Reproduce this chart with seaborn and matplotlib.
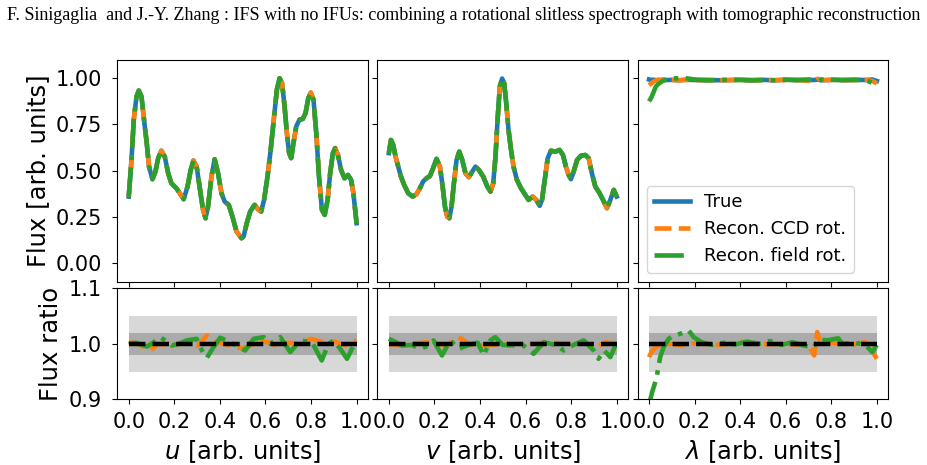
import matplotlib
matplotlib.use("Agg")
import matplotlib.pyplot as plt
import seaborn as sns

# ---------------- data ----------------
u_pos = [0.0, 0.012, 0.022, 0.034, 0.044, 0.056, 0.067, 0.079, 0.089, 0.104,
         0.117, 0.129, 0.143, 0.158, 0.173, 0.187, 0.209, 0.224, 0.241, 0.258,
         0.272, 0.284, 0.298, 0.313, 0.326, 0.337, 0.348, 0.363, 0.377, 0.392,
         0.407, 0.421, 0.439, 0.455, 0.473, 0.495, 0.504, 0.518, 0.533, 0.552,
         0.570, 0.581, 0.594, 0.609, 0.623, 0.638, 0.650, 0.662, 0.673, 0.684,
         0.694, 0.704, 0.713, 0.723, 0.735, 0.749, 0.764, 0.776, 0.788, 0.799,
         0.811, 0.823, 0.835, 0.848, 0.860, 0.873, 0.884, 0.896, 0.906, 0.918,
         0.932, 0.947, 0.962, 0.976, 0.986, 1.0]
u_flux = [0.36, 0.558, 0.775, 0.90, 0.933, 0.90, 0.775, 0.649, 0.522, 0.454,
          0.495, 0.567, 0.608, 0.576, 0.486, 0.432, 0.405, 0.378, 0.346, 0.414,
          0.504, 0.555, 0.522, 0.396, 0.288, 0.243, 0.306, 0.468, 0.562, 0.486,
          0.378, 0.333, 0.315, 0.252, 0.171, 0.135, 0.144, 0.216, 0.279, 0.315,
          0.288, 0.279, 0.342, 0.468, 0.613, 0.793, 0.937, 1.0, 0.973, 0.847,
          0.703, 0.595, 0.568, 0.649, 0.739, 0.775, 0.78, 0.811, 0.892, 0.922,
          0.883, 0.703, 0.468, 0.288, 0.261, 0.342, 0.486, 0.595, 0.622, 0.585,
          0.504, 0.459, 0.477, 0.450, 0.378, 0.216]

v_pos = [0.0, 0.009, 0.019, 0.029, 0.041, 0.053, 0.067, 0.085, 0.104, 0.121,
         0.136, 0.15, 0.165, 0.18, 0.194, 0.209, 0.224, 0.236, 0.246, 0.256,
         0.265, 0.275, 0.287, 0.297, 0.309, 0.322, 0.336, 0.351, 0.366, 0.38,
         0.395, 0.414, 0.432, 0.446, 0.458, 0.468, 0.477, 0.487, 0.497, 0.506,
         0.515, 0.525, 0.536, 0.547, 0.562, 0.58, 0.594, 0.613, 0.631, 0.647,
         0.662, 0.672, 0.684, 0.697, 0.711, 0.731, 0.749, 0.764, 0.777, 0.789,
         0.799, 0.811, 0.826, 0.843, 0.862, 0.877, 0.891, 0.906, 0.923, 0.94,
         0.957, 0.972, 0.987, 1.0]
v_flux = [0.595, 0.666, 0.64, 0.577, 0.522, 0.468, 0.423, 0.378, 0.36, 0.373,
          0.405, 0.441, 0.459, 0.471, 0.513, 0.564, 0.522, 0.414, 0.306, 0.252,
          0.243, 0.306, 0.45, 0.558, 0.603, 0.558, 0.486, 0.465, 0.495, 0.522,
          0.504, 0.468, 0.414, 0.387, 0.432, 0.577, 0.775, 0.955, 0.998, 0.973,
          0.865, 0.721, 0.613, 0.522, 0.45, 0.405, 0.378, 0.342, 0.36, 0.342,
          0.31, 0.342, 0.45, 0.567, 0.608, 0.603, 0.612, 0.585, 0.522, 0.477,
          0.454, 0.495, 0.558, 0.581, 0.585, 0.567, 0.486, 0.414, 0.382, 0.342,
          0.297, 0.342, 0.396, 0.36]

lam_pos = [0.0, 0.01, 0.02, 0.03, 0.04, 0.05, 0.06, 0.08, 0.10, 0.13,
           0.16, 0.20, 0.25, 0.30, 0.35, 0.40, 0.45, 0.50, 0.55, 0.60,
           0.65, 0.70, 0.72, 0.74, 0.76, 0.80, 0.85, 0.90, 0.95, 0.98, 1.0]
lam_true = [0.993, 0.99, 0.992, 0.989, 0.991, 0.99, 0.992, 0.99, 0.991, 0.989,
            0.992, 0.99, 0.991, 0.989, 0.99, 0.992, 0.99, 0.991, 0.989, 0.992,
            0.99, 0.991, 0.99, 0.992, 0.989, 0.991, 0.99, 0.992, 0.99, 0.993, 0.985]
lam_ccd = [0.962, 0.972, 0.982, 0.988, 0.99, 0.99, 0.989, 0.991, 0.99, 0.988,
           0.99, 0.989, 0.99, 0.988, 0.989, 0.99, 0.988, 0.99, 0.989, 0.99,
           0.99, 0.986, 0.98, 0.997, 0.99, 0.99, 0.989, 0.99, 0.991, 0.985, 0.972]
lam_field = [0.875, 0.895, 0.925, 0.955, 0.968, 0.977, 0.985, 0.995, 0.998, 1.0,
             1.0, 0.993, 0.988, 0.99, 0.992, 0.99, 0.988, 0.99, 0.989, 0.991,
             0.99, 0.992, 0.99, 0.985, 0.993, 0.992, 0.99, 0.99, 0.99, 0.975, 0.978]

# flux ratios (reconstruction / true)
u_ratio_field_pos = [0.0, 0.03, 0.06, 0.08, 0.11, 0.137, 0.16, 0.189, 0.22, 0.254,
                     0.298, 0.328, 0.343, 0.372, 0.401, 0.445, 0.48, 0.511, 0.548, 0.592,
                     0.621, 0.665, 0.709, 0.752, 0.804, 0.847, 0.877, 0.899, 0.93, 0.958,
                     0.987, 1.0]
u_ratio_field = [1.0, 1.002, 0.998, 0.995, 1.003, 1.012, 1.006, 0.997, 1.0, 1.006,
                 1.009, 0.982, 0.975, 0.994, 1.011, 1.003, 0.995, 0.988, 1.009, 1.012,
                 1.0, 1.012, 0.985, 1.006, 1.003, 0.97, 1.0, 1.006, 0.99, 0.973,
                 0.997, 1.0]
u_ratio_ccd_pos = [0.0, 0.04, 0.093, 0.13, 0.19, 0.25, 0.3, 0.343, 0.39, 0.45,
                   0.5, 0.55, 0.6, 0.65, 0.7, 0.75, 0.8, 0.85, 0.9, 0.95, 1.0]
u_ratio_ccd = [1.003, 1.0, 0.988, 1.0, 0.997, 1.003, 0.996, 1.015, 1.002, 0.997,
               0.991, 1.0, 1.004, 0.997, 1.002, 1.0, 1.009, 1.003, 1.004, 0.998, 1.006]

v_ratio_field_pos = [0.0, 0.03, 0.057, 0.1, 0.137, 0.17, 0.196, 0.233, 0.269, 0.29,
                     0.306, 0.35, 0.39, 0.416, 0.445, 0.467, 0.5, 0.55, 0.591, 0.635,
                     0.68, 0.738, 0.767, 0.81, 0.855, 0.899, 0.92, 0.945, 0.972, 0.994]
v_ratio_field = [1.009, 1.003, 0.997, 0.998, 0.991, 0.996, 1.006, 0.979, 1.006, 0.998,
                 0.991, 0.998, 1.002, 0.979, 1.006, 1.012, 0.998, 0.997, 0.997, 0.982,
                 1.003, 0.997, 0.988, 0.998, 1.006, 0.988, 0.973, 0.988, 0.976, 0.997]
v_ratio_ccd_pos = [0.0, 0.05, 0.1, 0.18, 0.25, 0.306, 0.35, 0.42, 0.5, 0.6,
                   0.7, 0.8, 0.86, 0.9, 0.95, 1.0]
v_ratio_ccd = [1.0, 0.997, 1.0, 1.003, 0.997, 1.012, 1.0, 0.997, 1.0, 1.0,
               1.002, 1.0, 1.003, 0.991, 1.003, 1.0]

lam_ratio_field_pos = [0.0, 0.006, 0.015, 0.023, 0.032, 0.049, 0.064, 0.086, 0.108, 0.137,
                       0.174, 0.196, 0.23, 0.28, 0.33, 0.38, 0.43, 0.48, 0.53, 0.58,
                       0.63, 0.68, 0.72, 0.745, 0.78, 0.83, 0.85, 0.9, 0.95, 0.98, 1.0]
lam_ratio_field = [0.88, 0.9, 0.915, 0.925, 0.937, 0.976, 0.994, 1.009, 1.015, 1.018,
                   1.024, 1.012, 1.003, 0.998, 1.002, 0.999, 1.004, 1.0, 1.005, 0.998,
                   1.003, 0.997, 0.993, 1.008, 1.006, 1.01, 1.0, 1.002, 0.998, 0.985, 0.998]
lam_ratio_ccd_pos = [0.0, 0.01, 0.03, 0.05, 0.1, 0.15, 0.2, 0.3, 0.4, 0.5,
                     0.6, 0.7, 0.725, 0.738, 0.75, 0.8, 0.9, 0.95, 0.975, 1.0]
lam_ratio_ccd = [0.976, 0.985, 0.994, 0.998, 1.0, 0.997, 1.001, 0.998, 1.002, 0.999,
                 1.0, 0.997, 0.979, 1.021, 1.005, 1.002, 0.999, 1.003, 0.99, 0.973]

ref_pos = [0.0, 1.0]
ref_ratio = [1.0, 1.0]
band_outer = (0.95, 1.05)
band_inner = (0.98, 1.02)

series_labels = ["True", "Recon. CCD rot.", "Recon. field rot."]
x_labels = ["$u$ [arb. units]", "$v$ [arb. units]", r"$\lambda$ [arb. units]"]
top_ticks = [0.0, 0.25, 0.5, 0.75, 1.0]
bottom_ticks = [0.9, 1.0, 1.1]
x_ticks = [0.0, 0.2, 0.4, 0.6, 0.8, 1.0]

title = ("F. Sinigaglia  and J.-Y. Zhang : IFS with no IFUs: combining a rotational "
         "slitless spectrograph with tomographic reconstruction")

# ---------------- figure ----------------
plt.rcParams["font.family"] = ["DejaVu Sans"]
plt.rcParams["xtick.major.pad"] = 6.0
plt.rcParams["ytick.major.pad"] = 7.5
fig, axes = plt.subplots(
    2, 3, figsize=(9.27, 4.65), dpi=100, sharex=True, sharey="row",
    gridspec_kw=dict(height_ratios=[2, 1], left=0.1266, right=0.9582,
                     top=0.8716, bottom=0.1413, hspace=0.04, wspace=0.038))

C_TRUE, C_CCD, C_FIELD = "#1f77b4", "#ff7f0e", "#2ca02c"
LW = 3.3

top_data = [
    (u_pos, u_flux, u_pos, u_flux, u_pos, u_flux),
    (v_pos, v_flux, v_pos, v_flux, v_pos, v_flux),
    (lam_pos, lam_true, lam_pos, lam_ccd, lam_pos, lam_field),
]
bot_data = [
    (u_ratio_ccd_pos, u_ratio_ccd, u_ratio_field_pos, u_ratio_field),
    (v_ratio_ccd_pos, v_ratio_ccd, v_ratio_field_pos, v_ratio_field),
    (lam_ratio_ccd_pos, lam_ratio_ccd, lam_ratio_field_pos, lam_ratio_field),
]

for j in range(3):
    ax = axes[0, j]
    xt, yt, xc, yc, xf, yf = top_data[j]
    sns.lineplot(x=xt, y=yt, ax=ax, color=C_TRUE, lw=LW, linestyle="-",
                 sort=False, legend=False, label=series_labels[0])
    sns.lineplot(x=xc, y=yc, ax=ax, color=C_CCD, lw=LW, linestyle="--",
                 sort=False, legend=False, label=series_labels[1])
    sns.lineplot(x=xf, y=yf, ax=ax, color=C_FIELD, lw=LW, linestyle="-.",
                 sort=False, legend=False, label=series_labels[2])
    if ax.get_legend() is not None:
        ax.get_legend().remove()

    axb = axes[1, j]
    axb.fill_between(ref_pos, band_outer[0], band_outer[1], color="gray",
                     alpha=0.3, lw=0)
    axb.fill_between(ref_pos, band_inner[0], band_inner[1], color="gray",
                     alpha=0.5, lw=0)
    xc, yc, xf, yf = bot_data[j]
    sns.lineplot(x=xc, y=yc, ax=axb, color=C_CCD, lw=LW, linestyle="--",
                 sort=False, legend=False)
    sns.lineplot(x=xf, y=yf, ax=axb, color=C_FIELD, lw=LW, linestyle="-.",
                 sort=False, legend=False)
    sns.lineplot(x=ref_pos, y=ref_ratio, ax=axb, color="black", lw=3.2,
                 linestyle="--", sort=False, legend=False)

    ax.set_xlabel("")
    ax.set_ylabel("")
    axb.set_xlabel(x_labels[j], fontsize=17.5)
    axb.set_ylabel("")

for ax in axes.flat:
    ax.tick_params(labelsize=15)

axes[0, 0].set_ylim(-0.1, 1.1)
axes[0, 0].set_yticks(top_ticks)
axes[1, 0].set_ylim(0.9, 1.1)
axes[1, 0].set_yticks(bottom_ticks)
axes[1, 0].set_xlim(-0.05, 1.05)
for j in range(3):
    axes[1, j].set_xticks(x_ticks)
    axes[1, j].set_xticklabels([f"{t:.1f}" for t in x_ticks])
axes[0, 0].set_ylabel("Flux [arb. units]", fontsize=17.5)
axes[1, 0].set_ylabel("Flux ratio", fontsize=17.5)

axes[0, 2].legend(loc="lower left", fontsize=13)

fig.text(0.0075, 1 - 15 / 465, title, family="Liberation Serif",
         fontsize=13, va="center", ha="left")

fig.savefig("out.png", dpi=100)
